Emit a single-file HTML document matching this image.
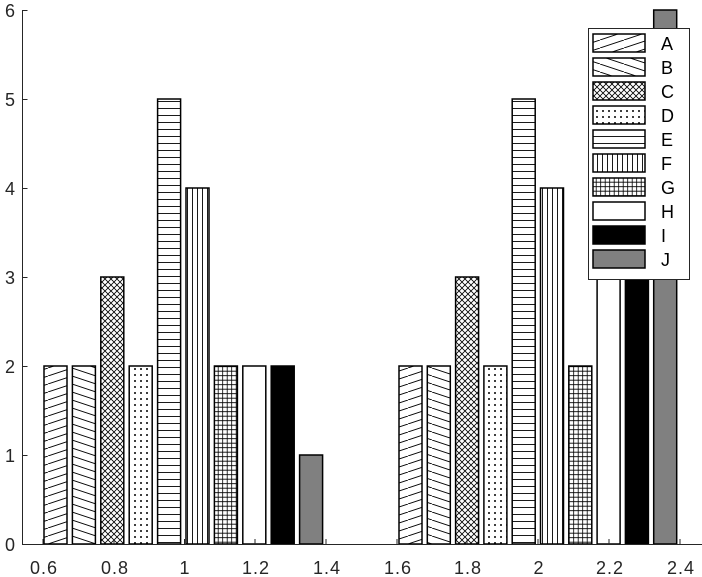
<!DOCTYPE html>
<html><head><style>body{margin:0;background:#fff}svg{display:block}</style></head><body>
<svg width="702" height="577" xmlns="http://www.w3.org/2000/svg" font-family="Liberation Sans, sans-serif">
<defs>
<pattern id="pA" width="24" height="8" patternUnits="userSpaceOnUse"><path d="M0 8 L24 0 M-24 8 L0 0 M24 8 L48 0" stroke="#000" stroke-width="0.9"/></pattern>
<pattern id="pB" width="24" height="8" patternUnits="userSpaceOnUse"><path d="M0 0 L24 8 M-24 0 L0 8 M24 0 L48 8" stroke="#000" stroke-width="0.9"/></pattern>
<pattern id="pC" width="6" height="6" patternUnits="userSpaceOnUse"><path d="M0 0 L6 6 M6 0 L0 6" stroke="#000" stroke-width="0.8"/></pattern>
<pattern id="pD" width="6" height="6" patternUnits="userSpaceOnUse"><circle cx="3" cy="3" r="1" fill="#000"/></pattern>
<pattern id="pE" width="8" height="7" patternUnits="userSpaceOnUse"><path d="M0 3.5 H8" stroke="#000" stroke-width="0.9"/></pattern>
<pattern id="pF" width="5" height="8" patternUnits="userSpaceOnUse"><path d="M2.5 0 V8" stroke="#000" stroke-width="0.9"/></pattern>
<pattern id="pG" width="4.5" height="4.5" patternUnits="userSpaceOnUse"><path d="M2.2 0 V4.5 M0 2.2 H4.5" stroke="#000" stroke-width="0.8"/></pattern>
</defs>
<g stroke="#000" stroke-width="1.5">
<rect x="44" y="366" width="23" height="178" fill="url(#pA)"/>
<rect x="72.4" y="366" width="23" height="178" fill="url(#pB)"/>
<rect x="100.8" y="277" width="23" height="267" fill="url(#pC)"/>
<rect x="129.2" y="366" width="23" height="178" fill="url(#pD)"/>
<rect x="157.6" y="99" width="23" height="445" fill="url(#pE)"/>
<rect x="186" y="188" width="23" height="356" fill="url(#pF)"/>
<rect x="214.4" y="366" width="23" height="178" fill="url(#pG)"/>
<rect x="242.8" y="366" width="23" height="178" fill="#fff"/>
<rect x="271.2" y="366" width="23" height="178" fill="#000"/>
<rect x="299.6" y="455" width="23" height="89" fill="#808080"/>
<rect x="399" y="366" width="23" height="178" fill="url(#pA)"/>
<rect x="427.3" y="366" width="23" height="178" fill="url(#pB)"/>
<rect x="455.6" y="277" width="23" height="267" fill="url(#pC)"/>
<rect x="483.9" y="366" width="23" height="178" fill="url(#pD)"/>
<rect x="512.2" y="99" width="23" height="445" fill="url(#pE)"/>
<rect x="540.5" y="188" width="23" height="356" fill="url(#pF)"/>
<rect x="568.8" y="366" width="23" height="178" fill="url(#pG)"/>
<rect x="597.1" y="188" width="23" height="356" fill="#fff"/>
<rect x="625.4" y="99" width="23" height="445" fill="#000"/>
<rect x="653.7" y="10" width="23" height="534" fill="#808080"/>
</g>
<g stroke="#262626" stroke-width="1" fill="none">
<path d="M22.5 10 V544.5 H702"/>
<path d="M22.5 544.5 h5 M22.5 455.5 h5 M22.5 366.5 h5 M22.5 277.5 h5 M22.5 188.5 h5 M22.5 99.5 h5 M22.5 10.5 h5"/>
<path d="M43 544 v-5 M114 544 v-5 M184.5 544 v-5 M255 544 v-5 M326 544 v-5 M397 544 v-5 M467 544 v-5 M538 544 v-5 M609 544 v-5 M680 544 v-5"/>
</g>
<g fill="#262626" font-size="18" text-anchor="end">
<text x="15" y="551">0</text><text x="15" y="462">1</text><text x="15" y="373">2</text><text x="15" y="284">3</text><text x="15" y="195">4</text><text x="15" y="106">5</text><text x="15" y="17">6</text>
</g>
<g fill="#262626" font-size="18" text-anchor="middle" letter-spacing="1">
<text x="44" y="574">0.6</text><text x="115" y="574">0.8</text><text x="185" y="574">1</text><text x="256" y="574">1.2</text><text x="327" y="574">1.4</text><text x="398" y="574">1.6</text><text x="468" y="574">1.8</text><text x="539" y="574">2</text><text x="610" y="574">2.2</text><text x="681" y="574">2.4</text>
</g>
<rect x="588.5" y="28.5" width="101" height="251" fill="#fff" stroke="#262626"/>
<g stroke="#000" stroke-width="1.5">
<rect x="593" y="34" width="52" height="18" fill="url(#pA)"/>
<rect x="593" y="58" width="52" height="18" fill="url(#pB)"/>
<rect x="593" y="82" width="52" height="18" fill="url(#pC)"/>
<rect x="593" y="106" width="52" height="18" fill="url(#pD)"/>
<rect x="593" y="130" width="52" height="18" fill="url(#pE)"/>
<rect x="593" y="154" width="52" height="18" fill="url(#pF)"/>
<rect x="593" y="178" width="52" height="18" fill="url(#pG)"/>
<rect x="593" y="202" width="52" height="18" fill="#fff"/>
<rect x="593" y="226" width="52" height="18" fill="#000"/>
<rect x="593" y="250" width="52" height="18" fill="#808080"/>
</g>
<g fill="#000" font-size="18">
<text x="661" y="50">A</text><text x="661" y="74">B</text><text x="661" y="98">C</text><text x="661" y="122">D</text><text x="661" y="146">E</text><text x="661" y="170">F</text><text x="661" y="194">G</text><text x="661" y="218">H</text><text x="661" y="242">I</text><text x="661" y="266">J</text>
</g>
</svg>
</body></html>
